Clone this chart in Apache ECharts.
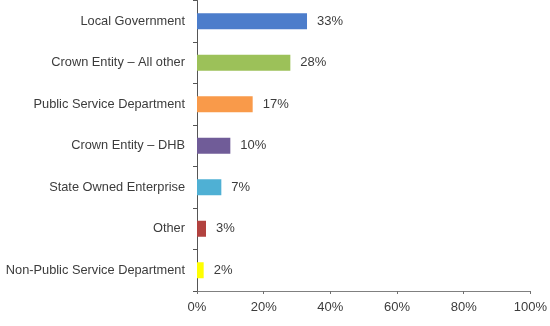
<!DOCTYPE html>
<html><head><meta charset="utf-8">
<script src="https://cdn.jsdelivr.net/npm/echarts@6/dist/echarts.min.js"></script>
<style>html,body{margin:0;padding:0;background:#fff}#c{width:550px;height:326px}</style>
</head><body><div id="c"></div>
<script>
const categories = ["Local Government","Crown Entity \u2013 All other","Public Service Department","Crown Entity \u2013 DHB","State Owned Enterprise","Other","Non-Public Service Department"];
const values = [33, 28, 16.7, 10, 7.3, 2.7, 2];
const valueLabels = ["33%","28%","17%","10%","7%","3%","2%"];
const xTicks = [0, 20, 40, 60, 80, 100];
const barColors = ["#4c7dcb","#9cc159","#f99a4a","#705c98","#4fb0d4","#b2423f","#ffff00"];

const chart = echarts.init(document.getElementById('c'), null, {renderer:'canvas'});
const txt = '#3c3c3c';
const font = 'Liberation Sans, Arial';
chart.setOption({
  animation:false,
  grid:{left:197, right:19, top:0.5, bottom:35, containLabel:false},
  xAxis:{type:'value', min:xTicks[0], max:xTicks[xTicks.length-1], interval:xTicks[1]-xTicks[0],
    axisLine:{show:true, lineStyle:{color:'#808080', width:1}},
    axisTick:{show:true, length:3, lineStyle:{color:'#707070'}},
    splitLine:{show:false},
    axisLabel:{formatter:v=>v+'%', color:txt, fontFamily:font, fontSize:13, margin:10}},
  yAxis:{type:'category', inverse:true, data:categories,
    axisLine:{show:true, lineStyle:{color:'#555', width:1}},
    axisTick:{show:true, length:4, lineStyle:{color:'#555'}},
    axisLabel:{color:txt, fontFamily:font, fontSize:12.8, margin:12}},
  series:[{type:'bar', barWidth:16,
    data: values.map((v,i)=>({value:v, itemStyle:{color:barColors[i]}, label:{formatter:valueLabels[i]}})),
    label:{show:true, position:'right', distance:10, color:txt, fontFamily:font, fontSize:13}
  }]
});
</script></body></html>
